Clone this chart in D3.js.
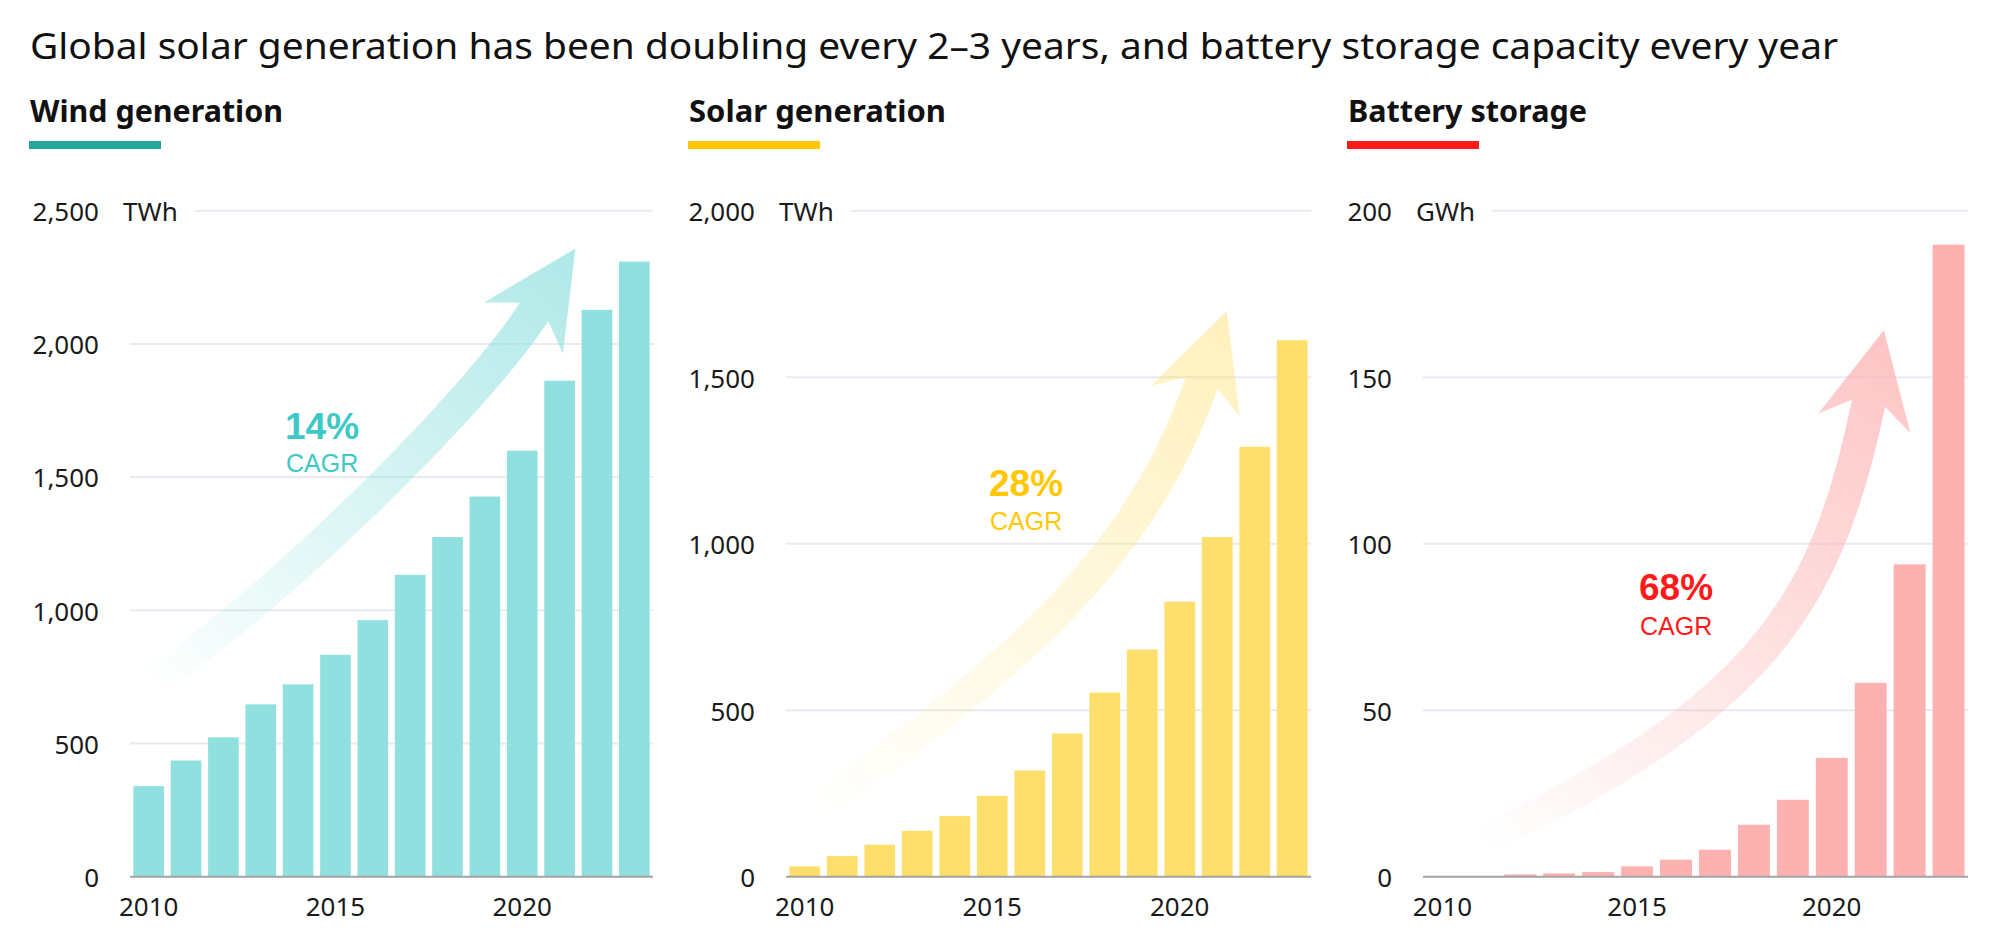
<!DOCTYPE html>
<html><head><meta charset="utf-8">
<script src="https://cdn.jsdelivr.net/npm/d3@7"></script>
<style>html,body{margin:0;padding:0;background:#fff;} svg{display:block;}</style>
</head><body>
<svg id="chart" width="2008" height="948"></svg>
<script>
// ---------- data ----------
const years = [2010, 2011, 2012, 2013, 2014, 2015, 2016, 2017, 2018, 2019, 2020, 2021, 2022, 2023];
const windValues = [340, 436, 523, 647, 722, 833, 963, 1133, 1275, 1427, 1599, 1862, 2128, 2309];
const solarValues = [31, 62, 96, 138, 182, 243, 319, 430, 553, 682, 826, 1020, 1291, 1611];
const batteryValues = [0.1, 0.2, 0.7, 1.0, 1.4, 3.1, 5.1, 8.1, 15.6, 23.1, 35.7, 58.2, 93.8, 189.8];
const windTicks = [0, 500, 1000, 1500, 2000, 2500];
const solarTicks = [0, 500, 1000, 1500, 2000];
const batteryTicks = [0, 50, 100, 150, 200];
const yearTicks = [2010, 2015, 2020];
const panelTitles = ["Wind generation", "Solar generation", "Battery storage"];
const unitLabels = ["TWh", "TWh", "GWh"];
const cagrLabels = ["14%", "28%", "68%"];
const cagrSub = "CAGR";
const titleText = "Global solar generation has been doubling every 2\u20133 years, and battery storage capacity every year";

// ---------- layout / style ----------
const FONT = "'Noto Sans', 'Open Sans', sans-serif";
const LFONT = "'Liberation Sans', Arial, sans-serif";
const Y0 = 876.7, Y1 = 210.7;
const panels = [
  { title: panelTitles[0], titleW: 253, hx: 29, plotL: 130, plotR: 653, values: windValues, ticks: windTicks,
    unit: unitLabels[0], cagr: cagrLabels[0], cx: 285, cy: 439, cy2: 472,
    accent: "#26a69a", bar: "#90e0df", label: "#3ec8c6", arrowOp: 0.72,
    arrow: { tail: [145, 686], dir0: [0.85, -0.53], k1: 130, base: [534, 312], tip: [575.4, 248.5], k2: 120 } },
  { title: panelTitles[1], titleW: 257, hx: 688, plotL: 786, plotR: 1311, values: solarValues, ticks: solarTicks,
    unit: unitLabels[1], cagr: cagrLabels[1], cx: 989, cy: 496, cy2: 530,
    accent: "#ffc800", bar: "#ffdf6b", label: "#ffc800", arrowOp: 0.45,
    arrow: { tail: [812, 812], dir0: [0.807, -0.59], k1: 230, base: [1201.6, 383.1], tip: [1226.8, 311.3], k2: 200 } },
  { title: panelTitles[2], titleW: 239, hx: 1347, plotL: 1423, plotR: 1968, values: batteryValues, ticks: batteryTicks,
    unit: unitLabels[2], cagr: cagrLabels[2], cx: 1639, cy: 600, cy2: 634.5,
    accent: "#ff1a1a", bar: "#fdb1b1", label: "#ff1a1a", arrowOp: 0.75,
    arrow: { tail: [1480, 842], dir0: [0.9, -0.43], k1: 320, base: [1868.5, 403.2], tip: [1883.9, 330.2], k2: 200 } }
];

const svg = d3.select("#chart");
svg.append("rect").attr("width", 2008).attr("height", 948).attr("fill", "#fff");
const defs = svg.append("defs");

svg.append("text")
  .attr("x", 30).attr("y", 59)
  .attr("font-family", FONT).attr("font-size", 37).attr("fill", "#111")
  .attr("textLength", 1808).attr("lengthAdjust", "spacingAndGlyphs")
  .text(titleText);

function arrowPath(a) {
  const [tx, ty] = a.tip, [bx, by] = a.base;
  let ux = tx - bx, uy = ty - by;
  const ul = Math.hypot(ux, uy); ux /= ul; uy /= ul;
  const nx = -uy, ny = ux;
  const P0 = a.tail;
  const P1 = [P0[0] + a.k1 * a.dir0[0], P0[1] + a.k1 * a.dir0[1]];
  const P3 = a.base;
  const P2 = [bx - a.k2 * ux, by - a.k2 * uy];
  const N = 80, left = [], right = [];
  for (let i = 0; i <= N; i++) {
    const t = i / N, mt = 1 - t;
    const cx = mt*mt*mt*P0[0] + 3*mt*mt*t*P1[0] + 3*mt*t*t*P2[0] + t*t*t*P3[0];
    const cy = mt*mt*mt*P0[1] + 3*mt*mt*t*P1[1] + 3*mt*t*t*P2[1] + t*t*t*P3[1];
    const dx = 3*mt*mt*(P1[0]-P0[0]) + 6*mt*t*(P2[0]-P1[0]) + 3*t*t*(P3[0]-P2[0]);
    const dy = 3*mt*mt*(P1[1]-P0[1]) + 6*mt*t*(P2[1]-P1[1]) + 3*t*t*(P3[1]-P2[1]);
    const dl = Math.hypot(dx, dy);
    const qx = -dy / dl, qy = dx / dl;
    const w = (30 + 4 * t) / 2;
    left.push([cx + qx * w, cy + qy * w]);
    right.push([cx - qx * w, cy - qy * w]);
  }
  const headLen = 95, half = 47;
  const bl = [tx - headLen * ux + half * nx, ty - headLen * uy + half * ny];
  const br = [tx - headLen * ux - half * nx, ty - headLen * uy - half * ny];
  const pts = left.concat([bl, [tx, ty], br]).concat(right.reverse());
  return "M" + pts.map(p => p[0].toFixed(1) + "," + p[1].toFixed(1)).join("L") + "Z";
}

panels.forEach((p, i) => {
  const g = svg.append("g");
  const max = d3.max(p.ticks);
  const x = d3.scaleBand().domain(years).range([p.plotL, p.plotR]).paddingInner(0.18).paddingOuter(0.09);
  const y = d3.scaleLinear().domain([0, max]).range([Y0, Y1]);

  // header
  g.append("text").attr("x", p.hx + 1).attr("y", 121.5)
    .attr("font-family", FONT).attr("font-weight", 700).attr("font-size", 30).attr("fill", "#111")
    .attr("textLength", p.titleW).attr("lengthAdjust", "spacingAndGlyphs")
    .text(p.title);
  g.append("rect").attr("x", p.hx).attr("y", 141).attr("width", 132).attr("height", 8).attr("fill", p.accent);

  // unit label
  const unit = g.append("text").attr("x", p.plotL - 7).attr("y", y(max) + 10)
    .attr("font-family", FONT).attr("font-size", 26).attr("fill", "#1a1a1a").text(p.unit);
  const uw = unit.node().getComputedTextLength();

  // gridlines
  g.append("g").selectAll("line").data(p.ticks.filter(t => t > 0)).join("line")
    .attr("x1", t => t === max ? p.plotL - 7 + uw + 17 : p.plotL)
    .attr("x2", p.plotR)
    .attr("y1", t => y(t)).attr("y2", t => y(t))
    .attr("stroke", "#e6eaf1").attr("stroke-width", 2);

  // y axis labels
  const ya = g.append("g").attr("transform", `translate(${p.plotL},0)`)
    .call(d3.axisLeft(y).tickValues(p.ticks).tickSize(0).tickPadding(31).tickFormat(d3.format(",")));
  ya.select(".domain").remove();
  ya.selectAll("text").attr("font-family", FONT).attr("font-size", 26).attr("fill", "#1a1a1a").attr("dy", "0.38em");

  // arrow
  const gid = "grad" + i;
  const grad = defs.append("linearGradient").attr("id", gid).attr("gradientUnits", "userSpaceOnUse")
    .attr("x1", p.arrow.tail[0]).attr("y1", p.arrow.tail[1])
    .attr("x2", p.arrow.tip[0]).attr("y2", p.arrow.tip[1]);
  grad.append("stop").attr("offset", 0).attr("stop-color", p.bar).attr("stop-opacity", 0);
  grad.append("stop").attr("offset", 1).attr("stop-color", p.bar).attr("stop-opacity", p.arrowOp);
  g.append("path").attr("d", arrowPath(p.arrow)).attr("fill", `url(#${gid})`);

  // bars
  g.append("g").selectAll("rect").data(years).join("rect")
    .attr("x", d => x(d)).attr("width", x.bandwidth())
    .attr("y", (d, j) => y(p.values[j]))
    .attr("height", (d, j) => Y0 - y(p.values[j]))
    .attr("fill", p.bar);

  // baseline
  g.append("line").attr("x1", p.plotL).attr("x2", p.plotR).attr("y1", Y0).attr("y2", Y0)
    .attr("stroke", "#a3a3a3").attr("stroke-width", 2);

  // x axis
  const xa = g.append("g").attr("transform", `translate(0,${Y0})`)
    .call(d3.axisBottom(x).tickValues(yearTicks).tickSize(0).tickPadding(21));
  xa.select(".domain").remove();
  xa.selectAll("text").attr("font-family", FONT).attr("font-size", 26).attr("fill", "#1a1a1a");

  // CAGR label
  g.append("text").attr("x", p.cx).attr("y", p.cy)
    .attr("font-family", LFONT).attr("font-weight", 700).attr("font-size", 37).attr("fill", p.label).text(p.cagr);
  g.append("text").attr("x", p.cx + 1).attr("y", p.cy2)
    .attr("font-family", LFONT).attr("font-size", 25).attr("fill", p.label).text(cagrSub);
});
</script>
</body></html>
